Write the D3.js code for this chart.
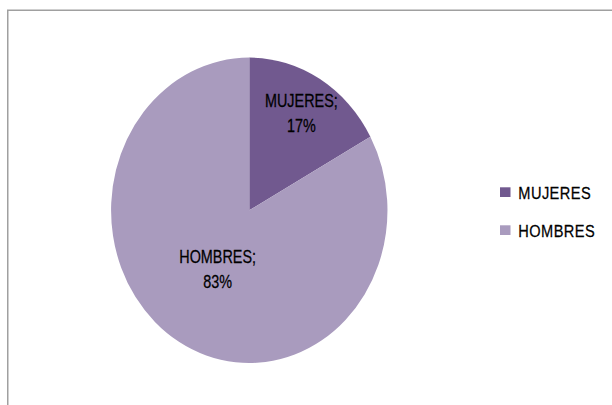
<!DOCTYPE html>
<html><head><meta charset="utf-8">
<script src="https://cdn.jsdelivr.net/npm/d3@7"></script>
<style>html,body{margin:0;padding:0;background:#fff;}svg{display:block;}</style>
</head><body>
<svg id="c" width="612" height="405"></svg>
<script>
const categories = ["MUJERES", "HOMBRES"];
const values = [17, 83];
const colors = ["#71598F", "#A99BBE"];

const svg = d3.select("#c");
svg.append("path").attr("d", "M7.75,405 V10.25 H612")
  .attr("fill", "none").attr("stroke", "#A0A0A0").attr("stroke-width", 1.5);

const cx = 249.3, cy = 210.3, rx = 138.2, ry = 152.7;
const pie = d3.pie().sort(null).value(d => d.v);
const data = pie(categories.map((c, i) => ({c, v: values[i], col: colors[i]})));
const arc = d3.arc().innerRadius(0).outerRadius(1);

const g = svg.append("g").attr("transform", `translate(${cx},${cy}) scale(${rx},${ry})`);
g.selectAll("path").data(data).join("path").attr("d", arc).attr("fill", d => d.data.col);

const total = d3.sum(values);
const font = "'Liberation Sans', Arial, sans-serif";
data.forEach(d => {
  const frac = d.data.v / total;
  const lr = frac < 0.5 ? 0.74 : 0.45;
  const la = d3.arc().innerRadius(lr).outerRadius(lr);
  const [px, py] = la.centroid(d);
  const x = cx + px * rx, y = cy + py * ry;
  const lines = [d.data.c + ";", Math.round(frac * 100) + "%"];
  lines.forEach((t, i) => {
    svg.append("text")
      .attr("transform", `translate(${x},${y - 6.3 + i * 25}) scale(0.8,1)`)
      .attr("text-anchor", "middle")
      .attr("font-family", font).attr("font-size", 18)
      .attr("fill", "#000").attr("stroke", "#000").attr("stroke-width", 0.25).text(t);
  });
});

const lg = svg.append("g");
categories.forEach((c, i) => {
  const y = 187.3 + i * 38;
  lg.append("rect").attr("x", 500).attr("y", y).attr("width", 10.5).attr("height", 9.7).attr("fill", colors[i]);
  lg.append("text").attr("transform", `translate(518.3,${y + 11.9}) scale(0.86,1)`)
    .attr("font-family", font).attr("font-size", 17).attr("letter-spacing", 0.5)
    .attr("fill", "#000").attr("stroke", "#000").attr("stroke-width", 0.25).text(c);
});
</script>
</body></html>
